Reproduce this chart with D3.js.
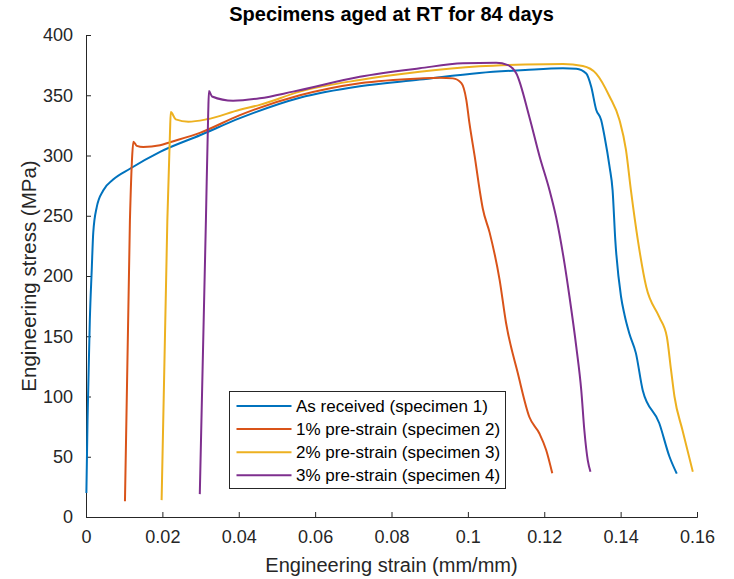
<!DOCTYPE html>
<html>
<head>
<meta charset="utf-8">
<script src="https://cdn.jsdelivr.net/npm/d3@7"></script>
<style>
  body { margin: 0; background: #fff; }
  svg { display: block; font-family: "Liberation Sans", Arial, Helvetica, sans-serif; }
</style>
</head>
<body>
<svg id="chart" width="734" height="579"></svg>
<script>
// values (strain in mm/mm, stress in MPa)
const strain1 = [0.0001, 0.0004, 0.0006, 0.0010, 0.0015, 0.0019, 0.0028, 0.0045, 0.0071, 0.0115, 0.0194, 0.0300, 0.0403, 0.0560, 0.0717, 0.0874, 0.1030, 0.1150, 0.1249, 0.1284, 0.1310, 0.1323, 0.1336, 0.1349, 0.1358, 0.1371, 0.1379, 0.1386, 0.1401, 0.1410, 0.1423, 0.1440, 0.1458, 0.1501, 0.1528, 0.1547];
const stress1 = [20, 80, 108, 163, 205, 236, 257, 271, 280, 289, 303, 317, 331, 348, 357.5, 363, 368.5, 371, 372.4, 372, 368, 357, 338, 329.5, 315.6, 290.7, 271, 230, 183, 168, 152, 136, 105, 78, 50, 36];

const strain2 = [0.0102, 0.0115, 0.0121, 0.0124, 0.0133, 0.0150, 0.0194, 0.0220, 0.0300, 0.0403, 0.0560, 0.0717, 0.0874, 0.0926, 0.0961, 0.0983, 0.0996, 0.1004, 0.1018, 0.1031, 0.1039, 0.1057, 0.1083, 0.1100, 0.1131, 0.1161, 0.1187, 0.1205, 0.1221];
const stress2 = [13, 246, 300, 311.5, 308, 307, 308.5, 311, 319, 333.5, 350, 360, 364, 364.6, 364, 360, 346, 327, 299, 271, 256, 236, 197, 161, 119, 83, 69.5, 55.6, 36.3];

const strain3 = [0.0198, 0.0213, 0.0220, 0.0222, 0.0235, 0.0268, 0.0316, 0.0403, 0.0455, 0.0560, 0.0717, 0.0874, 0.1030, 0.1150, 0.1249, 0.1301, 0.1336, 0.1371, 0.1397, 0.1414, 0.1427, 0.1445, 0.1467, 0.1501, 0.1521, 0.1532, 0.1541, 0.1562, 0.1589];
const stress3 = [14, 246, 320, 336, 330, 328, 330, 338, 342, 353, 362.7, 369.5, 374, 375.5, 376, 374.3, 368, 349, 329.5, 304.6, 271, 230, 191, 166, 149.6, 122, 100, 72, 37.6];

const strain4 = [0.0298, 0.0314, 0.0320, 0.0322, 0.0330, 0.0385, 0.0455, 0.0542, 0.0717, 0.0874, 0.0987, 0.1074, 0.1105, 0.1127, 0.1161, 0.1188, 0.1214, 0.1231, 0.1253, 0.1266, 0.1284, 0.1297, 0.1305, 0.1314, 0.1321];
const stress4 = [19, 246, 335, 353.5, 349, 345.5, 347.5, 353, 365.4, 372.4, 376.5, 377, 375, 368, 332, 299, 271, 249, 210.5, 183, 141, 105, 72, 47, 37.6];

const seriesNames = ["As received (specimen 1)", "1% pre-strain (specimen 2)", "2% pre-strain (specimen 3)", "3% pre-strain (specimen 4)"];
const seriesColors = ["#0072BD", "#D95319", "#EDB120", "#7E2F8E"];
const xTicks = [0, 0.02, 0.04, 0.06, 0.08, 0.1, 0.12, 0.14, 0.16];
const yTicks = [0, 50, 100, 150, 200, 250, 300, 350, 400];

const series = [
    { strain: strain1, stress: stress1 },
    { strain: strain2, stress: stress2 },
    { strain: strain3, stress: stress3 },
    { strain: strain4, stress: stress4 }
].map((s, i) => ({
    name: seriesNames[i],
    color: seriesColors[i],
    points: s.strain.map((v, j) => [v, s.stress[j]])
}));

const svg = d3.select("#chart"),
    margin = { top: 35, right: 37, bottom: 62, left: 86 },
    width = +svg.attr("width") - margin.left - margin.right,
    height = +svg.attr("height") - margin.top - margin.bottom,
    chart = svg.append("g").attr("transform", `translate(${margin.left},${margin.top})`);

const axisColor = "#262626";

const x = d3.scaleLinear().domain([0, 0.16]).range([0, width]);
const y = d3.scaleLinear().domain([0, 400]).range([height, 0]);

// axes, MATLAB style: ticks point inwards, no box
const xAxis = chart.append("g")
    .attr("transform", `translate(0,${height})`)
    .call(d3.axisBottom(x).tickValues(xTicks).tickSize(-5).tickPadding(13).tickFormat(d => d3.format("~g")(d)));

const yAxis = chart.append("g")
    .call(d3.axisLeft(y).tickValues(yTicks).tickSize(-5).tickPadding(13));

[xAxis, yAxis].forEach(g => {
    g.select(".domain").attr("stroke", axisColor).attr("stroke-width", 1);
    g.selectAll(".tick line").attr("stroke", axisColor);
    g.selectAll(".tick text")
        .attr("fill", axisColor)
        .style("font-size", "18px");
});

chart.append("text")
    .attr("text-anchor", "middle")
    .attr("x", width / 2)
    .attr("y", height + 55)
    .attr("fill", axisColor)
    .style("font-size", "20px")
    .text("Engineering strain (mm/mm)");

chart.append("text")
    .attr("text-anchor", "middle")
    .attr("transform", "rotate(-90)")
    .attr("x", -height / 2)
    .attr("y", -50)
    .attr("fill", axisColor)
    .style("font-size", "20.5px")
    .text("Engineering stress (MPa)");

chart.append("text")
    .attr("text-anchor", "middle")
    .attr("x", width / 2)
    .attr("y", -14)
    .attr("fill", "#000")
    .style("font-size", "20px")
    .style("font-weight", "bold")
    .text("Specimens aged at RT for 84 days");

const line = d3.line()
    .x(d => x(d[0]))
    .y(d => y(d[1]))
    .curve(d3.curveMonotoneX);

chart.selectAll(".curve")
    .data(series)
    .enter()
    .append("path")
    .attr("class", "curve")
    .attr("fill", "none")
    .attr("stroke", d => d.color)
    .attr("stroke-width", 2)
    .attr("stroke-linejoin", "round")
    .attr("d", d => line(d.points));

// legend
const legend = svg.append("g").attr("transform", "translate(229.5,391.5)");

legend.append("rect")
    .attr("width", 276)
    .attr("height", 97)
    .attr("fill", "#fff")
    .attr("stroke", axisColor)
    .attr("stroke-width", 1);

const rows = legend.selectAll(".row")
    .data(series)
    .enter()
    .append("g")
    .attr("class", "row")
    .attr("transform", (d, i) => `translate(0,${14.5 + i * 23.1})`);

rows.append("line")
    .attr("x1", 7)
    .attr("x2", 62)
    .attr("stroke", d => d.color)
    .attr("stroke-width", 2);

rows.append("text")
    .attr("x", 66.5)
    .attr("dy", "0.35em")
    .attr("fill", "#000")
    .style("font-size", "17px")
    .text(d => d.name);
</script>
</body>
</html>
